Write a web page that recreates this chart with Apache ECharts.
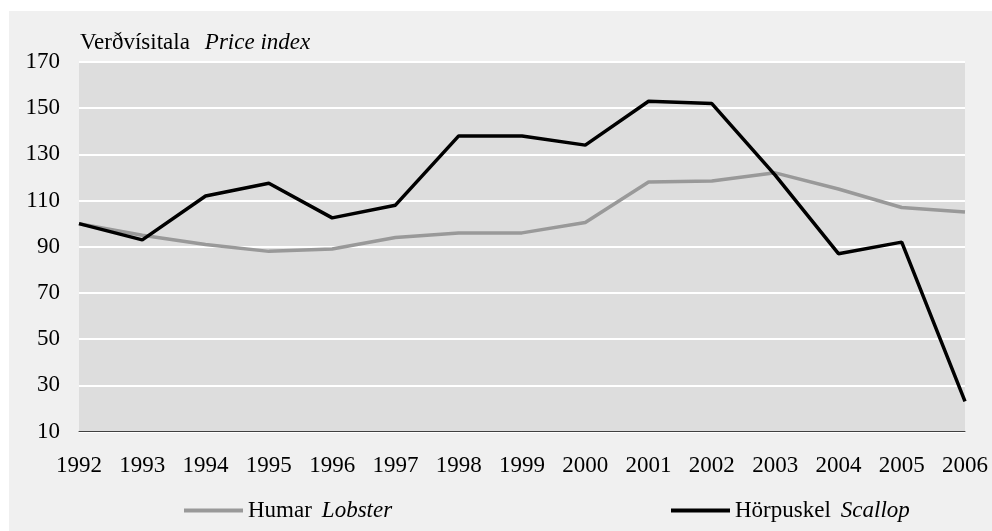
<!DOCTYPE html>
<html>
<head>
<meta charset="utf-8">
<script src="https://cdn.jsdelivr.net/npm/echarts@6/dist/echarts.min.js"></script>
<style>
  body { margin: 0; background: #ffffff; }
  #main { position: absolute; left: 9px; top: 11px; width: 983px; height: 520px; }
</style>
</head>
<body>
<div id="main"></div>
<script>
  // ár
  var years = ['1992', '1993', '1994', '1995', '1996', '1997', '1998', '1999',
    '2000', '2001', '2002', '2003', '2004', '2005', '2006'];
  // Humar - Lobster
  var lobster = [100, 95, 91, 88, 89, 94, 96, 96, 100.5, 118, 118.5, 122, 115, 107, 105];
  // Hörpuskel - Scallop
  var scallop = [100, 93, 112, 117.5, 102.5, 108, 138, 138, 134, 153, 152, 121, 87, 92, 23];
  // ás
  var yMin = 10, yMax = 170, yStep = 20;

  var font = 'Liberation Serif';
  var fs = 23;
  var rich = {
    n: { fontFamily: font, fontSize: fs, color: '#000', fontWeight: 'normal' },
    i: { fontFamily: font, fontSize: fs, color: '#000', fontWeight: 'normal', fontStyle: 'italic' }
  };
  var english = { 'Humar': 'Lobster', 'Hörpuskel': 'Scallop' };

  var myChart = echarts.init(document.getElementById('main'));
  var option = {
    backgroundColor: '#f0f0f0',
    animation: false,
    title: {
      text: '{n|Verðvísitala}   {i|Price index}',
      left: 71,
      top: 20,
      padding: 0,
      textStyle: { fontWeight: 'normal', rich: rich }
    },
    legend: [{
      data: ['Humar'],
      left: 175,
      top: 488,
      padding: 0,
      icon: 'rect',
      itemWidth: 59,
      itemHeight: 4,
      formatter: function (name) { return '{n|' + name + '}   {i|' + english[name] + '}'; },
      textStyle: { rich: rich }
    }, {
      data: ['Hörpuskel'],
      left: 662,
      top: 488,
      padding: 0,
      icon: 'rect',
      itemWidth: 59,
      itemHeight: 4,
      formatter: function (name) { return '{n|' + name + '}   {i|' + english[name] + '}'; },
      textStyle: { rich: rich }
    }],
    grid: {
      left: 70,
      right: 27,
      top: 51,
      bottom: 99.5,
      show: true,
      backgroundColor: '#dddddd',
      borderWidth: 0
    },
    xAxis: {
      type: 'category',
      data: years,
      boundaryGap: false,
      axisLine: { lineStyle: { color: '#404040', width: 1 } },
      axisTick: { show: false },
      axisLabel: { margin: 23, fontFamily: font, fontSize: fs, color: '#000' },
      splitLine: { show: false }
    },
    yAxis: {
      type: 'value',
      min: yMin,
      max: yMax,
      interval: yStep,
      axisLine: { show: false },
      axisTick: { show: false },
      axisLabel: { margin: 19, fontFamily: font, fontSize: fs, color: '#000' },
      splitLine: { lineStyle: { color: '#ffffff', width: 2 } }
    },
    series: [{
      name: 'Humar',
      type: 'line',
      data: lobster,
      symbol: 'none',
      color: '#999999',
      lineStyle: { width: 3.5, color: '#999999' }
    }, {
      name: 'Hörpuskel',
      type: 'line',
      data: scallop,
      symbol: 'none',
      color: '#000000',
      lineStyle: { width: 3.5, color: '#000000' }
    }]
  };
  myChart.setOption(option);
</script>
</body>
</html>
